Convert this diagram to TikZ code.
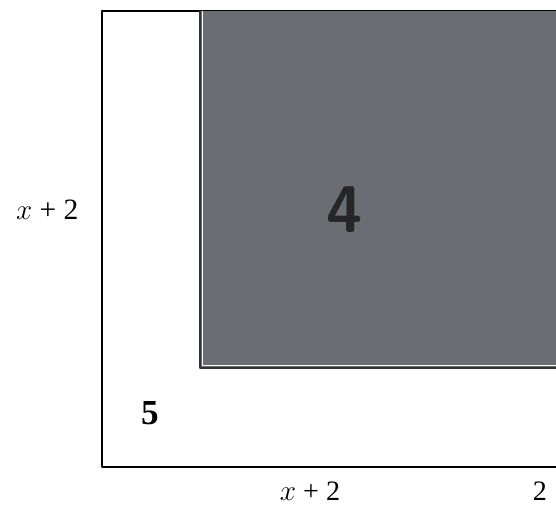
\documentclass[tikz,border=0pt]{standalone}
\usepackage{fontspec}
\setmainfont{Liberation Serif}
\definecolor{boardgray}{RGB}{106,109,114}

\begin{document}
\begin{tikzpicture}[line cap=round,line join=round]
  \useasboundingbox (0,0) rectangle (13.9,12.7);
  \clip (0,0) rectangle (13.9,12.7);
  \draw[line width=1pt,fill=white] (2.55,1.02) rectangle (14.5,12.42);
  \fill[boardgray] (5.0,3.5) rectangle (14.5,12.42);
  \draw[line width=0.8pt,black!80] (5.0,12.42) -- (5.0,3.5) -- (14.5,3.5);
  \draw[line width=0.6pt,white] (5.07,12.42) -- (5.07,3.57) -- (14.5,3.57);
  \node[font=\sffamily\bfseries\fontsize{47}{50}\selectfont,text=black!85] (four) at (8.62,7.45) {4};
  \node[font=\bfseries\fontsize{25}{28}\selectfont] (five) at (3.75,2.38) {5};
  \node[font=\fontsize{21}{24}\selectfont] (side) at (1.18,7.45) {$x$ + 2};
  \node[font=\fontsize{20}{22}\selectfont] (base) at (7.75,0.42) {$x$ + 2};
  \node[font=\fontsize{20}{22}\selectfont] (extra) at (13.5,0.42) {2};
\end{tikzpicture}
\end{document}
